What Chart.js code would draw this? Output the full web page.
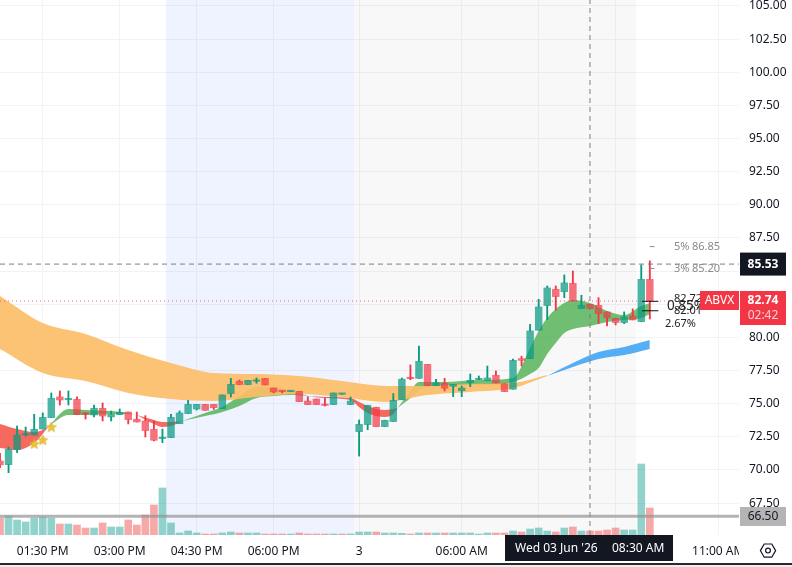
<!DOCTYPE html>
<html>
<head>
<meta charset="utf-8">
<title>ABVX</title>
<style>
  html, body { margin: 0; padding: 0; background: #fff; overflow: hidden; }
  canvas { display: block; }
  #edge { height: 2px; background: #2a2a2a; }
  #rest { height: 2px; background: #eeeeee; }
</style>
<script src="https://cdn.jsdelivr.net/npm/chart.js@4/dist/chart.umd.min.js"></script>
</head>
<body>
<canvas id="chart" width="792" height="563"></canvas>
<div id="edge"></div>
<div id="rest"></div>
<script>
// Candles (one every 10 minutes)
const opens = [70.68,70.40,71.53,72.64,72.64,73.09,73.95,75.51,75.30,75.33,74.23,74.15,74.65,74.00,74.17,74.37,73.82,73.70,73.07,72.37,
  72.44,73.49,74.25,74.60,74.95,74.95,74.62,75.76,76.69,76.44,76.69,76.91,76.18,75.93,75.91,75.93,75.20,75.35,74.90,74.93,
  75.71,74.93,72.89,73.42,74.73,73.27,73.65,75.30,76.91,76.91,77.97,76.36,76.54,76.31,75.98,76.59,76.81,76.74,77.14,76.51,
  76.09,78.40,78.40,80.54,82.40,83.63,83.45,84.08,82.17,82.50,82.42,81.92,81.44,81.12,81.62,81.19,84.38];
const highs = [71.26,71.73,73.32,73.24,74.20,74.30,75.81,75.96,75.96,75.51,74.32,74.90,75.05,74.45,74.60,74.37,74.37,74.10,73.70,73.09,
  74.20,74.45,75.25,74.95,74.95,74.95,75.66,76.91,76.79,76.76,76.94,76.91,76.18,75.93,75.93,75.93,75.53,75.35,75.40,75.81,
  75.73,75.50,73.77,74.88,74.73,73.75,75.76,76.94,77.92,79.35,77.97,76.84,76.91,76.46,76.34,77.24,77.09,77.84,77.47,76.51,
  78.37,78.58,80.99,82.87,83.88,83.88,84.71,85.01,83.18,82.50,83.00,81.92,81.44,81.92,82.15,85.47,85.77];
const lows = [70.17,69.80,71.31,72.56,72.64,73.09,73.95,74.90,74.90,74.17,73.84,74.00,73.70,73.70,74.17,73.47,73.62,72.49,72.19,72.06,
  72.44,73.49,74.25,74.52,74.50,74.57,74.62,75.51,76.44,76.44,76.54,76.41,75.81,75.81,75.91,75.15,74.93,74.93,74.83,74.93,
  75.71,74.93,71.05,73.04,73.27,73.27,73.65,75.30,76.81,76.91,76.36,76.36,75.96,75.53,75.53,76.29,76.81,76.74,76.56,75.91,
  76.09,77.85,78.40,80.54,81.34,82.05,83.00,82.75,82.17,82.17,81.04,80.86,80.94,81.04,81.32,81.19,81.39];
const closes = [70.38,71.56,72.64,72.69,73.07,73.97,75.41,75.28,75.33,74.17,74.20,74.65,74.07,74.20,74.35,73.80,73.62,72.97,72.24,72.40,
  73.97,74.30,74.95,74.95,74.50,74.70,75.66,76.46,76.44,76.76,76.72,76.41,75.88,75.91,75.93,75.15,74.93,74.93,74.87,75.81,
  75.73,75.20,73.44,74.88,73.27,73.75,75.25,76.84,76.89,78.20,76.36,76.56,76.16,76.46,76.18,76.76,76.84,76.94,76.56,75.91,
  78.27,78.27,80.49,82.30,83.73,83.08,84.11,82.75,82.42,82.17,81.79,81.47,81.12,81.54,81.32,84.38,82.74];

// Volume bars: height in relative units, and their colour (1 = up)
const volumes = [17,19,15,13,17,18,17,11,11,10,7,7,12,8,8,15,10,20,30,47,12,2,4,2,1,1,2,3,2,2,2,1,1,1,1,2,1,1,1,1,1,1,3,3,3,2,2,
  1.7,1,2,2,2,2,2,2,2,1,2,2,2,4,3,6,7,4,3,7,8,4,4,4,5,7,5,5,71,27];
const volumeUp = [0,1,1,1,1,1,1,0,1,0,0,1,0,1,1,0,0,0,0,1,1,1,1,1,0,0,1,1,0,1,1,0,0,0,1,0,0,0,0,1,0,1,1,1,0,1,1,
  1,0,1,0,1,0,1,1,1,1,1,0,0,1,0,1,1,1,0,1,0,1,0,0,0,0,1,1,1,0];

// Moving average clouds (index, upper edge, lower edge)
const orangeIdx = [0,5,10,15,20,25,30,35,40,45,50,55,60,64];
const orangeTop = [83.13,81.09,80.26,79.05,78.07,77.32,77.24,77.09,76.71,76.34,76.34,76.49,76.56,77.16];
const orangeLow = [79.13,77.32,76.71,75.81,75.35,75.20,75.50,75.73,75.50,75.13,75.66,75.88,76.18,77.09];

const blueIdx = [64,67,70,73,76];
const blueTop = [77.09,78.07,78.90,79.28,79.80];
const blueLow = [77.09,77.77,78.37,78.67,79.13];

const red1Idx = [0,2,4,5,5.7];
const red1Top = [73.47,73.09,72.87,73.02,73.32];
const red1Low = [71.66,71.51,72.03,72.72,73.32];

const green1Idx = [5.7,8,10,13,15,16];
const green1Top = [73.32,74.60,74.53,74.45,74.30,74.15];
const green1Low = [73.32,74.15,74.15,74.22,74.22,74.15];

const red2Idx = [16,18,19,20,21.3];
const red2Top = [74.15,73.77,73.62,73.62,73.69];
const red2Low = [74.15,73.47,73.24,73.32,73.69];

const green2Idx = [21.3,24,26,28,30,32,34,36];
const green2Top = [73.69,74.30,74.75,75.58,76.26,76.26,75.96,75.58];
const green2Low = [73.69,74.07,74.37,74.83,75.43,75.58,75.66,75.58];

const red3Idx = [36,38,41,42,43,44,45,46,46.5];
const red3Top = [75.58,75.50,75.43,75.13,74.83,74.60,74.52,74.60,74.68];
const red3Low = [75.58,75.43,75.28,74.75,74.30,74.07,74.00,74.22,74.68];

const green3Idx = [46.5,48,49,52,56,60,62,63,64,65,66,67,69,71,73,75,76];
const green3Top = [74.68,75.96,76.64,76.64,76.79,76.94,79.20,80.48,81.46,82.14,82.60,82.82,82.60,82.00,81.69,82.37,82.60];
const green3Low = [74.68,75.43,76.03,76.34,76.41,76.64,77.24,77.69,78.75,79.58,80.33,80.63,80.86,81.16,81.31,81.46,81.77];

// Stars under the first candles
const starIdx = [4,5,6];
const starPrice = [71.96,72.26,73.24];

// Axes
const priceTicks = [105,102.5,100,97.5,95,92.5,90,87.5,85,82.5,80,77.5,75,72.5,70,67.5];
const hiddenPriceTicks = [85,82.5];
const timeTicks = [5,14,23,32,42,54,63,72,84];
const timeLabels = ['01:30 PM','03:00 PM','04:30 PM','06:00 PM','3','06:00 AM','','','11:00 AM'];

// Levels
const lastPrice = 82.74;
const cursorPrice = 85.53;
const cursorIdx = 69;
const alertPrice = 66.5;
const targetLevels = [86.85,85.20];
const stopLevels = [82.72,82.01];

const UP = '#089981', DOWN = '#f23645';
const FONT = '"Noto Sans", sans-serif';
const X_MIN = 0, X_MAX = 86.43;
const Y_MAX = 105.45, Y_MIN = 65.095;

function pairs(xs, ys) {
    return xs.map((x, i) => ({ x: x, y: ys[i] }));
}

// Two lines with the space between them filled
function band(idx, top, low, color) {
    return [
        { type: 'line', data: pairs(idx, top), borderWidth: 0, pointRadius: 0, backgroundColor: color,
          fill: '+1', cubicInterpolationMode: 'monotone', order: 5 },
        { type: 'line', data: pairs(idx, low), borderWidth: 0, pointRadius: 0, backgroundColor: color,
          fill: false, cubicInterpolationMode: 'monotone', order: 5 }
    ];
}

function level(xs, ys, color, width, dash) {
    return { type: 'line', data: pairs(xs, ys), borderColor: color, borderWidth: width, borderDash: dash || [],
             pointRadius: 0, fill: false, order: 2 };
}

function starImage() {
    const c = document.createElement('canvas');
    c.width = c.height = 11;
    const g = c.getContext('2d');
    g.beginPath();
    for (let i = 0; i < 10; i++) {
        const r = i % 2 ? 2.3 : 5.2;
        const a = -Math.PI / 2 + i * Math.PI / 5;
        g.lineTo(5.5 + r * Math.cos(a), 5.8 + r * Math.sin(a));
    }
    g.closePath();
    g.fillStyle = '#eec52e';
    g.fill();
    g.strokeStyle = '#d3a62a';
    g.lineWidth = 0.7;
    g.stroke();
    return c;
}

// Session backgrounds, behind everything
const sessions = {
    id: 'sessions',
    beforeDatasetsDraw(chart) {
        const { ctx, scales: { x }, chartArea: a } = chart;
        const shade = (from, to, color) => {
            ctx.fillStyle = color;
            ctx.fillRect(x.getPixelForValue(from), a.top, x.getPixelForValue(to) - x.getPixelForValue(from), a.bottom - a.top);
        };
        ctx.save();
        shade(19.42, 41.4, 'rgba(41,98,255,0.08)');
        shade(41.4, 74.38, 'rgba(120,123,134,0.05)');
        ctx.restore();
    }
};

function box(ctx, x, y, w, h, color) {
    ctx.fillStyle = color;
    ctx.fillRect(x, y, w, h);
}

function label(ctx, text, x, y, font, color, align) {
    ctx.font = font;
    ctx.fillStyle = color;
    ctx.textAlign = align || 'left';
    ctx.textBaseline = 'middle';
    ctx.fillText(text, x, y);
}

// Price scale tags, crosshair tag and the trade labels
const tags = {
    id: 'tags',
    afterDraw(chart) {
        const { ctx, scales: { y } } = chart;
        ctx.save();

        const ty = y.getPixelForValue(targetLevels[0]);
        const my = y.getPixelForValue(targetLevels[1]);
        label(ctx, '5%', 674, ty, '11px ' + FONT, '#8a8a8a');
        label(ctx, '86.85', 692, ty, '11px ' + FONT, '#8a8a8a');
        label(ctx, '3%', 674, my, '11px ' + FONT, '#8a8a8a');
        label(ctx, '85.20', 692, my, '11px ' + FONT, '#8a8a8a');
        label(ctx, '82.72', 674, y.getPixelForValue(stopLevels[0]) - 2, '11px ' + FONT, '#222');
        label(ctx, '0.85%', 667, 306, '13.5px ' + FONT, '#222');
        label(ctx, '82.01', 674, y.getPixelForValue(stopLevels[1]), '11px ' + FONT, '#222');
        label(ctx, '2.67%', 665, 324, '11px ' + FONT, '#222');

        const cy = y.getPixelForValue(cursorPrice);
        box(ctx, 740, cy - 11.5, 46, 23, '#131722');
        label(ctx, '85.53', 763, cy, 'bold 12px ' + FONT, '#fff', 'center');

        box(ctx, 700, 291, 39, 19, DOWN);
        label(ctx, 'ABVX', 719.5, 300.5, '12px ' + FONT, '#fff', 'center');
        box(ctx, 740, 291, 46, 34, DOWN);
        label(ctx, '82.74', 763, 300.5, 'bold 12px ' + FONT, '#fff', 'center');
        label(ctx, '02:42', 763, 315.5, '12px ' + FONT, '#fbd0d4', 'center');

        box(ctx, 740, 507, 46, 19, '#b4b4b4');
        label(ctx, '66.50', 763, 516.5, '12px ' + FONT, '#131722', 'center');

        // price scale hides what runs past the time scale
        box(ctx, 739, 535, 53, 28, '#fff');
        box(ctx, 505, 535, 168, 26, '#131722');
        label(ctx, "Wed 03 Jun '26", 515, 549, '12px ' + FONT, '#fff');
        label(ctx, '08:30 AM', 612, 549, '12px ' + FONT, '#fff');

        // settings hexagon
        ctx.strokeStyle = '#131722';
        ctx.lineWidth = 1.2;
        ctx.beginPath();
        for (let i = 0; i < 6; i++) {
            ctx.lineTo(768 + 7.6 * Math.cos(i * Math.PI / 3), 550.6 + 7.6 * Math.sin(i * Math.PI / 3));
        }
        ctx.closePath();
        ctx.stroke();
        ctx.beginPath();
        ctx.arc(768, 550.6, 2.4, 0, Math.PI * 2);
        ctx.stroke();
        ctx.restore();
    }
};

// Keep the plot flush with the canvas edges, labels do not push it in
function noPadding(s) {
    s.paddingTop = s.paddingBottom = s.paddingLeft = s.paddingRight = 0;
}

const indices = opens.map((_, i) => i);
const candleColor = indices.map(i => closes[i] >= opens[i] ? UP : DOWN);

new Chart(document.getElementById('chart'), {
    type: 'bar',
    plugins: [sessions, tags],
    data: {
        datasets: [
            { label: 'Volume', yAxisID: 'v', data: pairs(indices, volumes),
              backgroundColor: volumeUp.map(u => u ? 'rgba(38,166,154,0.5)' : 'rgba(239,83,80,0.5)'),
              barThickness: 7, grouped: false, order: 9 },
            ...band(orangeIdx, orangeTop, orangeLow, 'rgba(253,190,105,0.92)'),
            ...band(blueIdx, blueTop, blueLow, 'rgba(66,165,245,0.9)'),
            ...band(red1Idx, red1Top, red1Low, 'rgba(244,67,54,0.8)'),
            ...band(green1Idx, green1Top, green1Low, 'rgba(76,175,80,0.8)'),
            ...band(red2Idx, red2Top, red2Low, 'rgba(244,67,54,0.8)'),
            ...band(green2Idx, green2Top, green2Low, 'rgba(76,175,80,0.8)'),
            ...band(red3Idx, red3Top, red3Low, 'rgba(244,67,54,0.8)'),
            ...band(green3Idx, green3Top, green3Low, 'rgba(76,175,80,0.8)'),
            level([X_MIN, X_MAX], [alertPrice, alertPrice], 'rgba(150,150,150,0.72)', 3),
            level([X_MIN, X_MAX], [lastPrice, lastPrice], 'rgba(242,54,69,0.75)', 1, [1, 3]),
            level([X_MIN, X_MAX], [cursorPrice, cursorPrice], '#7f7f7f', 1, [5, 4]),
            level([cursorIdx, cursorIdx], [Y_MIN, Y_MAX], '#7f7f7f', 1, [5, 4]),
            level([76, 76.55], [targetLevels[0], targetLevels[0]], '#8a8a8a', 1),
            level([76, 76.55], [targetLevels[1], targetLevels[1]], '#8a8a8a', 1),
            level([75.1, 77], [stopLevels[0], stopLevels[0]], '#111', 1),
            level([75.1, 77], [stopLevels[1], stopLevels[1]], '#111', 1),
            // wicks stop at the body so they do not show through it
            { label: 'Upper wicks', data: indices.map(i => ({ x: i, y: [Math.max(opens[i], closes[i]), highs[i]] })),
              backgroundColor: candleColor, barThickness: 1.2, grouped: false, order: 4 },
            { label: 'Lower wicks', data: indices.map(i => ({ x: i, y: [lows[i], Math.min(opens[i], closes[i])] })),
              backgroundColor: candleColor, barThickness: 1.2, grouped: false, order: 4 },
            { label: 'Bodies', data: indices.map(i => ({ x: i, y: [opens[i], closes[i]] })),
              backgroundColor: indices.map(i => closes[i] >= opens[i] ? 'rgba(8,153,129,0.72)' : 'rgba(242,54,69,0.7)'),
              borderWidth: 0,
              barThickness: 6.8, minBarLength: 1.4, grouped: false, order: 3 },
            { type: 'scatter', label: 'Stars', data: pairs(starIdx, starPrice), pointStyle: starImage(), order: 1 }
        ]
    },
    options: {
        responsive: false,
        animation: false,
        devicePixelRatio: 1,
        layout: { padding: 0, autoPadding: false },
        plugins: { legend: { display: false }, tooltip: { enabled: false } },
        events: [],
        scales: {
            x: {
                type: 'linear', min: X_MIN, max: X_MAX, offset: false,
                afterFit(s) { s.height = 28; noPadding(s); },
                afterBuildTicks(s) { s.ticks = timeTicks.map(v => ({ value: v })); },
                grid: { color: '#f2f3f7', drawTicks: false, offset: false },
                border: { display: false },
                ticks: {
                    padding: 9, maxRotation: 0, autoSkip: false, color: '#131722',
                    font: { family: FONT, size: 12 },
                    callback: v => timeLabels[timeTicks.indexOf(v)]
                }
            },
            y: {
                position: 'right', min: Y_MIN, max: Y_MAX,
                afterFit(s) { s.width = 53; noPadding(s); },
                afterBuildTicks(s) { s.ticks = priceTicks.map(v => ({ value: v })); },
                grid: { color: '#f2f3f7', drawTicks: false },
                border: { display: false },
                ticks: {
                    padding: 10, color: '#131722',
                    font: { family: FONT, size: 12 },
                    callback: v => hiddenPriceTicks.includes(v) ? '' : v.toFixed(2)
                }
            },
            v: { display: false, min: 0, max: 535 }
        }
    }
});
</script>
</body>
</html>
